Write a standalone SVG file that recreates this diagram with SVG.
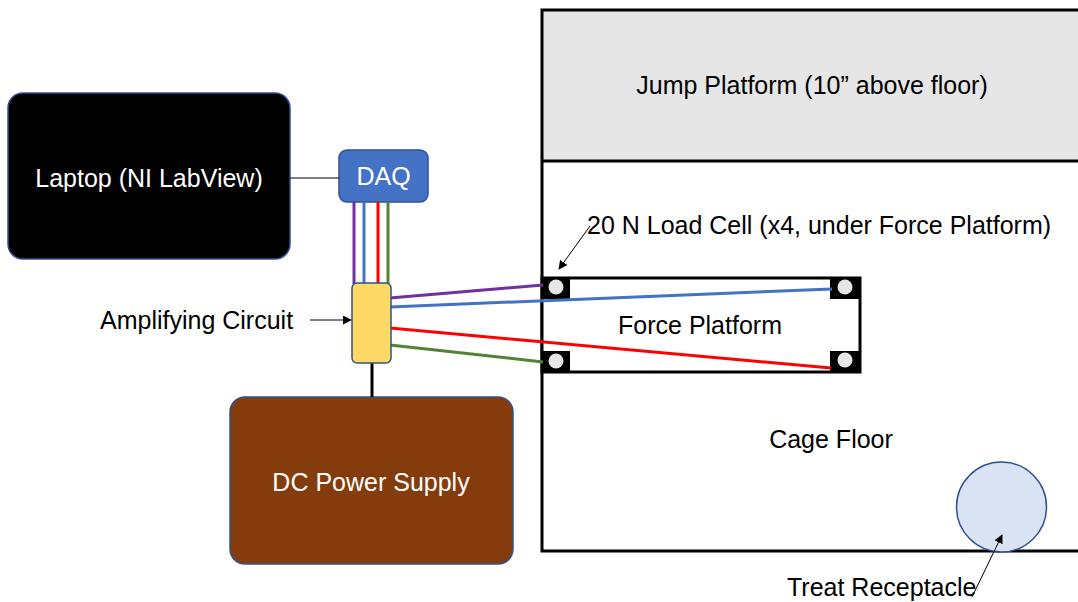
<svg xmlns="http://www.w3.org/2000/svg" width="1078" height="602" viewBox="0 0 1078 602">
<defs>
<style>
.t{font-family:"Liberation Sans",Arial,sans-serif;font-size:25px;fill:#000}
.w{fill:#fff}
.wire{stroke-width:3;fill:none}
.thin{stroke:#000;stroke-width:1;fill:none}
.cell{fill:#000}
.dot{fill:#e6e6e6}
</style>
<marker id="ah" viewBox="0 0 10 10" refX="9" refY="5" markerWidth="9" markerHeight="9" markerUnits="userSpaceOnUse" orient="auto">
<path d="M0,0 L10,5 L0,10 z" fill="#000"/>
</marker>
</defs>
<rect width="1078" height="602" fill="#fff"/>

<g id="cage">
<rect x="542" y="10" width="540" height="151" fill="#e6e6e6"/>
<path d="M1080,10 H542 V551 H1080 M542,161 H1080" stroke="#000" stroke-width="3" fill="none"/>
<text class="t" x="812" y="94" text-anchor="middle">Jump Platform (10” above floor)</text>
<text class="t" x="831" y="448" text-anchor="middle">Cage Floor</text>
</g>

<g id="force-platform">
<rect x="542" y="278" width="318" height="94" fill="#fff" stroke="#000" stroke-width="3"/>
<rect class="cell" x="541" y="277" width="29" height="22"/>
<rect class="cell" x="830" y="277" width="31" height="22"/>
<rect class="cell" x="541" y="351" width="29" height="22"/>
<rect class="cell" x="830" y="351" width="31" height="22"/>
<circle class="dot" cx="556" cy="287" r="7.5"/>
<circle class="dot" cx="845" cy="287" r="7.5"/>
<circle class="dot" cx="556" cy="361" r="7.5"/>
<circle class="dot" cx="845" cy="360" r="7.5"/>
<text class="t" x="700" y="334" text-anchor="middle">Force Platform</text>
</g>

<g id="treat-receptacle">
<circle cx="1001.5" cy="507" r="45" fill="#dae3f3" stroke="#2f528f" stroke-width="1.5"/>
</g>

<g id="laptop">
<rect x="8" y="93" width="282" height="166" rx="15" fill="#000" stroke="#2f528f" stroke-width="1.5"/>
<text class="t w" x="149" y="187" text-anchor="middle">Laptop (NI LabView)</text>
</g>

<g id="daq">
<rect x="339" y="150" width="89" height="52" rx="8" fill="#4472c4" stroke="#2f528f" stroke-width="1.5"/>
<text class="t w" x="383.5" y="185" text-anchor="middle">DAQ</text>
</g>

<g id="power-supply">
<rect x="230" y="397" width="283" height="167" rx="15" fill="#843c0c" stroke="#2f528f" stroke-width="1.5"/>
<text class="t w" x="371" y="491" text-anchor="middle">DC Power Supply</text>
</g>

<g id="connectors">
<line class="thin" x1="290" y1="178" x2="339" y2="178"/>
<line class="wire" stroke="#7030a0" x1="354" y1="202" x2="354" y2="284"/>
<line class="wire" stroke="#4472c4" x1="364" y1="202" x2="364" y2="284"/>
<line class="wire" stroke="#ff0000" x1="378" y1="202" x2="378" y2="284"/>
<line class="wire" stroke="#548235" x1="388" y1="202" x2="388" y2="284"/>
<line class="wire" stroke="#7030a0" x1="390" y1="298" x2="543" y2="285"/>
<line class="wire" stroke="#4472c4" x1="390" y1="307" x2="832" y2="289"/>
<line class="wire" stroke="#ff0000" x1="390" y1="328" x2="831" y2="368"/>
<line class="wire" stroke="#548235" x1="390" y1="345" x2="543" y2="362"/>
<line stroke="#000" stroke-width="3" x1="372" y1="362" x2="372" y2="397"/>
<line class="thin" x1="310" y1="320" x2="351" y2="320" marker-end="url(#ah)"/>
<line class="thin" x1="590" y1="226" x2="559" y2="269" marker-end="url(#ah)"/>
<line class="thin" x1="972" y1="597" x2="1002" y2="535" marker-end="url(#ah)"/>
</g>

<g id="amplifier">
<rect x="352" y="283" width="39" height="80" rx="5" fill="#ffd966" stroke="#2f528f" stroke-width="1.5"/>
</g>

<g id="labels">
<text class="t" x="100" y="329">Amplifying Circuit</text>
<text class="t" x="587" y="234">20 N Load Cell (x4, under Force Platform)</text>
<text class="t" x="787" y="596">Treat Receptacle</text>
</g>
</svg>
